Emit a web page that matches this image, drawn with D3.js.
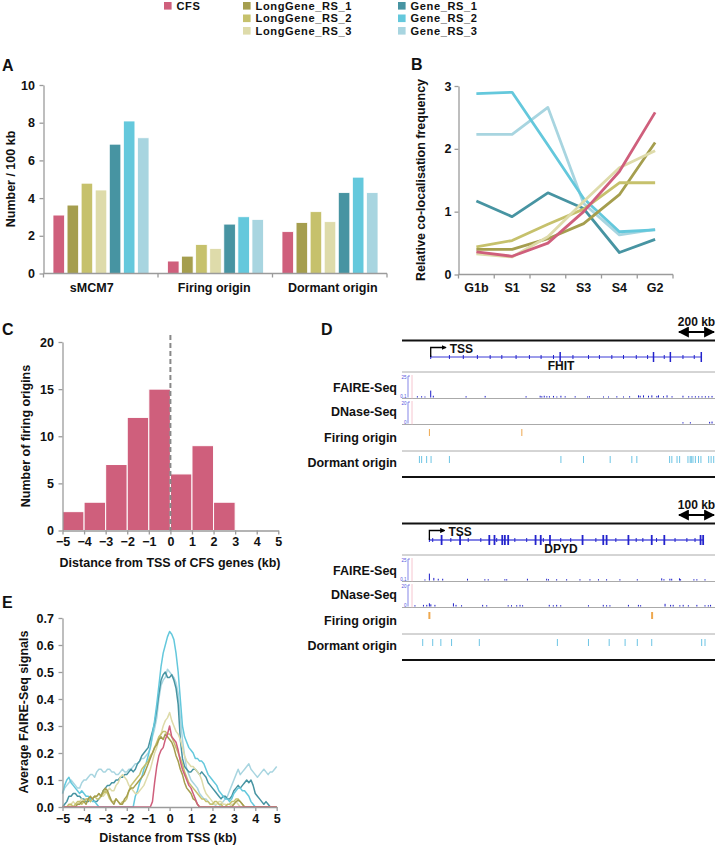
<!DOCTYPE html>
<html><head><meta charset="utf-8">
<script src="https://cdn.jsdelivr.net/npm/d3@7"></script>
<style>body{margin:0;background:#fff}</style>
</head><body><svg id="c" width="717" height="845"></svg>
<script>
// ---------- shared ----------
const seriesNames = ["CFS","LongGene_RS_1","LongGene_RS_2","LongGene_RS_3","Gene_RS_1","Gene_RS_2","Gene_RS_3"];
const seriesColors = ["#cf5f7c","#a59e4e","#c6c16c","#dedbaa","#4794a2","#64c8dc","#a8d5e0"];

// ---------- panel A ----------
const aCategories = ["sMCM7","Firing origin","Dormant origin"];
const aSMCM7   = [3.10,3.63,4.79,4.43,6.86,8.09,7.20];
const aFiring  = [0.66,0.92,1.54,1.33,2.62,3.01,2.87];
const aDormant = [2.22,2.70,3.28,2.75,4.29,5.11,4.29];
const aTicks = [0,2,4,6,8,10];

// ---------- panel B ----------
const bPhases = ["G1b","S1","S2","S3","S4","G2"];
const bCFS  = [0.36,0.29,0.50,1.00,1.64,2.58];
const bLG1  = [0.40,0.40,0.57,0.81,1.27,2.10];
const bLG2  = [0.44,0.54,0.80,1.04,1.46,1.46];
const bLG3  = [0.33,0.28,0.60,1.16,1.70,1.97];
const bG1   = [1.17,0.92,1.30,1.05,0.35,0.56];
const bG2   = [2.88,2.90,2.06,1.21,0.68,0.71];
const bG3   = [2.23,2.23,2.66,1.13,0.63,0.72];
const bTicks = [0,1,2,3];

// ---------- panel C ----------
const cBinStart = [-5,-4,-3,-2,-1,0,1,2];
const cCounts   = [2,3,7,12,15,6,9,3];
const cYTicks = [0,5,10,15,20];
const cXTicks = [-5,-4,-3,-2,-1,0,1,2,3,4,5];

// ---------- panel E (distance from TSS, kb; average FAIRE-Seq signal) ----------
const eX = [-5,-4.9,-4.8,-4.7,-4.6,-4.5,-4.4,-4.3,-4.2,-4.1,
  -4,-3.9,-3.8,-3.7,-3.6,-3.5,-3.4,-3.3,-3.2,-3.1,
  -3,-2.9,-2.8,-2.7,-2.6,-2.5,-2.4,-2.3,-2.2,-2.1,
  -2,-1.9,-1.8,-1.7,-1.6,-1.5,-1.4,-1.3,-1.2,-1.1,
  -1,-0.9,-0.8,-0.7,-0.6,-0.5,-0.4,-0.3,-0.2,-0.1,
  0,0.1,0.2,0.3,0.4,0.5,0.6,0.7,0.8,0.9,
  1,1.1,1.2,1.3,1.4,1.5,1.6,1.7,1.8,1.9,
  2,2.1,2.2,2.3,2.4,2.5,2.6,2.7,2.8,2.9,
  3,3.1,3.2,3.3,3.4,3.5,3.6,3.7,3.8,3.9,
  4,4.1,4.2,4.3,4.4,4.5,4.6,4.7,4.8,4.9,5];
const eCFS = [0,0,0,0,0,0,0,0,0,0,
  0,0,0,0,0,0,0,0,0,0,
  0,0,0,0,0,0,0,0,0,0,
  0,0,0,0,0,0,0,0,0,0,
  0,0,0.02,0.09,0.15,0.19,0.21,0.22,0.25,0.27,
  0.30,0.26,0.25,0.24,0.21,0.17,0.14,0.12,0.10,0.08,
  0.07,0.05,0.03,0.01,0,0,0,0,0,0,
  0,0,0,0,0,0,0,0,0,0,
  0,0,0,0,0,0,0,0,0,0,
  0,0,0,0,0,0,0,0,0,0,0];
const eLG1 = [0,0,0,0,0,0,0,0.01,0.01,0.02,
  0.02,0.01,0.03,0.04,0.03,0.04,0.04,0.05,0.04,0.06,
  0.07,0.06,0.04,0.02,0.01,0.03,0.02,0.01,0.01,0.03,
  0.04,0.06,0.07,0.07,0.08,0.09,0.10,0.11,0.12,0.14,
  0.16,0.18,0.20,0.22,0.23,0.25,0.26,0.25,0.27,0.26,
  0.25,0.24,0.22,0.19,0.17,0.14,0.12,0.09,0.07,0.06,
  0.05,0.03,0.025,0.01,0,0,0,0,0,0,
  0,0,0,0,0,0,0,0,0,0,
  0.01,0.02,0.025,0.02,0.01,0,0,0,0,0,
  0,0,0,0,0,0,0,0,0,0,0];
const eLG2 = [0,0,0,0.01,0.01,0,0.01,0.02,0.02,0.01,
  0.02,0.03,0.03,0.02,0.03,0.04,0.03,0.03,0.04,0.05,
  0.06,0.05,0.03,0.02,0.02,0.03,0.02,0.01,0.02,0.02,
  0.03,0.06,0.08,0.09,0.10,0.11,0.12,0.14,0.15,0.16,
  0.17,0.19,0.20,0.22,0.24,0.26,0.27,0.28,0.28,0.27,
  0.27,0.26,0.24,0.22,0.20,0.18,0.16,0.13,0.11,0.09,
  0.08,0.07,0.06,0.05,0.04,0.03,0.03,0.02,0.02,0.01,
  0.01,0.02,0.02,0.01,0.01,0,0,0.01,0.01,0.02,
  0.02,0.03,0.03,0.02,0.01,0,0,0,0,0,
  0,0,0,0,0,0,0,0,0,0,0];
const eLG3 = [0,0,0,0,0.01,0.02,0.01,0.01,0.02,0.03,
  0.02,0.03,0.03,0.02,0.03,0.04,0.04,0.05,0.04,0.04,
  0.05,0.06,0.07,0.06,0.06,0.08,0.09,0.11,0.12,0.11,
  0.10,0.08,0.07,0.06,0.05,0.05,0.06,0.07,0.08,0.10,
  0.12,0.14,0.17,0.20,0.22,0.25,0.27,0.30,0.32,0.33,
  0.35,0.32,0.30,0.28,0.27,0.25,0.22,0.19,0.17,0.16,
  0.15,0.15,0.14,0.13,0.12,0.10,0.07,0.05,0.04,0.03,
  0.02,0.01,0.01,0.02,0.02,0.01,0.01,0,0,0.01,
  0.01,0.02,0.01,0,0,0,0,0,0,0,
  0,0,0,0,0,0,0,0,0,0,0];
const eG1 = [0,0.01,0.02,0.04,0.04,0.05,0.05,0.04,0.04,0.03,
  0.03,0.02,0.02,0.03,0.03,0.02,0.02,0.03,0.04,0.06,
  0.07,0.08,0.08,0.09,0.09,0.10,0.10,0.11,0.11,0.12,
  0.12,0.13,0.14,0.13,0.14,0.16,0.17,0.19,0.20,0.21,
  0.22,0.25,0.28,0.31,0.36,0.42,0.47,0.49,0.50,0.48,
  0.48,0.49,0.47,0.44,0.38,0.25,0.18,0.15,0.14,0.13,
  0.13,0.14,0.14,0.13,0.12,0.13,0.12,0.11,0.09,0.08,
  0.07,0.06,0.05,0.04,0.03,0.04,0.04,0.03,0.03,0.04,
  0.06,0.07,0.08,0.07,0.08,0.09,0.10,0.09,0.10,0.08,
  0.05,0.04,0.03,0.02,0.01,0.02,0.01,0,0,0,0];
const eG2 = [0.05,0.08,0.10,0.11,0.09,0.08,0.07,0.06,0.05,0.06,
  0.05,0.04,0.04,0.03,0.02,0.02,0.01,0,0,0,
  0,0,0,0,0,0,0,0,0,0,
  0,0,0,0,0.04,0.06,0.09,0.11,0.14,0.16,
  0.19,0.22,0.27,0.32,0.38,0.45,0.52,0.57,0.60,0.63,
  0.65,0.64,0.62,0.57,0.50,0.40,0.30,0.26,0.24,0.22,
  0.21,0.20,0.18,0.18,0.17,0.17,0.16,0.14,0.12,0.11,
  0.10,0.09,0.08,0.06,0.05,0.04,0.03,0.03,0.02,0.03,
  0.05,0.06,0.07,0.07,0.06,0.06,0.05,0.04,0.02,0.01,
  0,0,0,0,0,0,0,0,0,0,0];
const eG3 = [0.05,0.07,0.08,0.09,0.10,0.09,0.08,0.07,0.07,0.09,
  0.10,0.10,0.11,0.12,0.12,0.11,0.13,0.14,0.14,0.13,
  0.13,0.14,0.14,0.13,0.13,0.12,0.12,0.13,0.14,0.13,
  0.13,0.14,0.14,0.15,0.16,0.16,0.17,0.18,0.18,0.19,
  0.20,0.22,0.26,0.29,0.33,0.40,0.45,0.47,0.48,0.51,
  0.50,0.49,0.48,0.46,0.42,0.33,0.25,0.19,0.14,0.12,
  0.10,0.09,0.08,0.07,0.05,0.04,0.03,0.03,0.02,0.01,
  0.01,0.01,0,0,0.01,0.02,0.03,0.04,0.06,0.08,
  0.10,0.12,0.14,0.12,0.13,0.14,0.15,0.16,0.14,0.13,
  0.12,0.11,0.12,0.13,0.14,0.13,0.12,0.13,0.13,0.14,0.15];
const eYTicks = [0,0.1,0.2,0.3,0.4,0.5,0.6,0.7];

// ---------- panel D (positions in kb from left edge of window) ----------
const fhitLength = 1690, fhitTss = 155, fhitEnd = 1616;
const fhitExons = [155,256,331,407,476,539,616,688,751,818,854,923,1007,1066,1133,1196,1265,1326,1358,1416,1449,1517,1578,1616];
const fhitMajorExons = [854,1358,1449,1616];
const fhitFairePos = [83,106,124,155,169,346,449,670,746,755,768,782,796,818,836,858,881,935,1002,1012,1088,1115,1160,1196,1229,1277,1286,1304,1331,1349,1376,1385,1412,1431,1458,1517,1548,1566,1584,1602,1620,1638,1656,1674];
const fhitFaireVal = [1.5,1.5,1.2,8,2,1.5,1.8,1.5,2,1.5,2,1.5,1.5,1.8,1.2,2,1.5,1.5,1.2,1.5,1.2,1.2,1.5,1.2,1.5,2.5,2,2.5,2,2.5,1.8,2.5,1.5,2.5,1.5,2,1.5,1.5,1.5,1.5,1.5,1.5,1.5,1.8];
const fhitDnasePos = [1517,1557,1661,1674];
const fhitDnaseVal = [1.2,1.2,1.5,1.8];
const fhitFiring = [148,647];
const fhitDormant = [94,106,133,157,256,858,980,1124,1241,1268,1445,1457,1485,1499,1544,1556,1562,1571,1584,1601,1614,1656,1669,1683];

const dpydLength = 846, dpydTss = 74, dpydEnd = 814;
const dpydExons = [74,83,107,132,157,179,213,236,250,256,271,278,287,305,337,361,375,382,400,429,456,488,524,544,553,578,612,633,651,675,688,709,738,770,792,807,814];
const dpydMajorExons = [107,157,236,250,271,278,287,361,375,400,488,544,553,612,675,709,807,814];
const dpydFairePos = [62,74,86,98,110,177,224,233,278,283,339,391,396,418,445,481,508,531,553,589,636,702,708,724,729,750,753,789,797,819];
const dpydFaireVal = [1.2,8,3,2,2,2,1.5,1.5,1.5,1.5,2,2,1.5,1.5,1.5,1.5,1.5,1.5,1.5,1.5,1.5,2.5,1.5,2,2,2.5,1.5,1.5,1.5,1.5];
const dpydDnasePos = [35,58,67,74,78,89,139,146,161,218,229,287,296,310,319,326,398,409,418,429,504,544,553,562,612,639,645,711,726,733,751,760,774,797,819,828,834];
const dpydDnaseVal = [1.2,1.5,1.5,3,2,1.5,3,1.5,1.2,1.5,1.2,1.2,1.2,1.2,1.5,1.2,1.5,1.2,1.5,1.2,1.2,1.5,1.2,1.2,1.5,1.5,1.2,2.5,1.5,1.5,1.2,1.5,1.2,1.5,1.2,1.2,1.5];
const dpydFiring = [74,676];
const dpydDormant = [56,83,105,134,209,420,504,560,603,636,675,810,819];

// ---------- drawing ----------
const FONT = '"Liberation Sans", Arial, Helvetica, sans-serif';
const AX = "#9b9b9b";
const svg = d3.select("#c").attr("font-family", FONT);
svg.append("rect").attr("width",717).attr("height",845).attr("fill","#fff");

function txt(x,y,s,size,anchor){
  return svg.append("text").attr("x",x).attr("y",y).attr("font-size",size||12.5)
    .attr("font-weight","bold").attr("fill","#111").attr("text-anchor",anchor||"start").text(s);
}
function vtxt(x,y,s,size){
  return svg.append("text").attr("transform",`translate(${x},${y}) rotate(-90)`)
    .attr("font-size",size||12.5).attr("font-weight","bold").attr("fill","#111")
    .attr("text-anchor","middle").text(s);
}
function styleAxis(g){
  g.attr("font-family",FONT).attr("font-size",null);
  g.selectAll("path,line").attr("stroke",AX).attr("stroke-width",1.3);
  g.selectAll("text").attr("font-size",12.5).attr("font-weight","bold").attr("fill","#111");
}

// legend
const legendItems = [
  {i:0,x:164,row:0},
  {i:1,x:243,row:0},{i:2,x:243,row:1},{i:3,x:243,row:2},
  {i:4,x:398,row:0},{i:5,x:398,row:1},{i:6,x:398,row:2}
];
const rowY = [5.8,18.3,30.8];
legendItems.forEach(d=>{
  svg.append("rect").attr("x",d.x).attr("y",rowY[d.row]-3.8).attr("width",7.6).attr("height",7.6).attr("fill",seriesColors[d.i]);
  txt(d.x+12.5,rowY[d.row]+4,seriesNames[d.i],11.1).attr("letter-spacing",0.6);
});

// ===== Panel A =====
txt(2,71,"A",16);
const yA = d3.scaleLinear().domain([0,10]).range([273.5,85]);
const xA = d3.scaleBand().domain(aCategories).range([43.5,387]);
const xA1 = d3.scaleBand().domain(seriesNames).range([9.5, xA.bandwidth()-9]).paddingInner(0.18);
const aData = [aSMCM7,aFiring,aDormant];
const gA = svg.append("g");
aCategories.forEach((cat,ci)=>{
  gA.selectAll(null).data(aData[ci]).enter().append("rect")
    .attr("x",(v,i)=>xA(cat)+xA1(seriesNames[i]))
    .attr("width",xA1.bandwidth())
    .attr("y",v=>yA(v)).attr("height",v=>yA(0)-yA(v))
    .attr("fill",(v,i)=>seriesColors[i]).attr("stroke","#fff").attr("stroke-width",0.8);
});
styleAxis(svg.append("g").attr("transform","translate(43.5,0)")
  .call(d3.axisLeft(yA).tickValues(aTicks).tickSize(4).tickSizeOuter(0).tickPadding(4.5)));
const axA = svg.append("g").attr("transform",`translate(0,${yA(0)})`);
axA.append("line").attr("x1",43.5).attr("x2",387).attr("stroke",AX).attr("stroke-width",1.3);
aCategories.map(c=>xA(c)).concat([387]).forEach(x=>axA.append("line").attr("x1",x).attr("x2",x).attr("y2",4).attr("stroke",AX).attr("stroke-width",1.3));
const aLabelShift = [-9,-1,3];
aCategories.forEach((c,i)=>txt(xA(c)+xA.bandwidth()/2+aLabelShift[i],292,c,12.5,"middle"));
vtxt(14.5,179,"Number / 100 kb");

// ===== Panel B =====
txt(411,70,"B",16);
const yB = d3.scaleLinear().domain([0,3]).range([274.5,86]);
const xB = d3.scaleBand().domain(bPhases).range([458.5,673]);
const bSeries = [bG1,bG3,bG2,bLG1,bLG2,bLG3,bCFS];
const bColorIdx = [4,6,5,1,2,3,0];
styleAxis(svg.append("g").attr("transform","translate(458.5,0)")
  .call(d3.axisLeft(yB).tickValues(bTicks).tickSize(4).tickSizeOuter(0).tickPadding(3).tickFormat(d3.format("d"))));
const axB = svg.append("g").attr("transform",`translate(0,${yB(0)})`);
axB.append("line").attr("x1",458.5).attr("x2",673).attr("stroke",AX).attr("stroke-width",1.3);
bPhases.map(p=>xB(p)).concat([673]).forEach(x=>axB.append("line").attr("x1",x).attr("x2",x).attr("y2",4).attr("stroke",AX).attr("stroke-width",1.3));
bPhases.forEach(p=>txt(xB(p)+xB.bandwidth()/2,291.5,p,12.5,"middle"));
const lineB = d3.line().x((v,i)=>xB(bPhases[i])+xB.bandwidth()/2).y(v=>yB(v));
bSeries.forEach((s,k)=>{
  svg.append("path").attr("d",lineB(s)).attr("fill","none")
    .attr("stroke",seriesColors[bColorIdx[k]]).attr("stroke-width",2.8).attr("stroke-linejoin","round");
});
vtxt(425,180,"Relative co-localisation frequency");

// ===== Panel C =====
txt(2,335,"C",16);
const xC = d3.scaleLinear().domain([-5,5]).range([62.5,278.3]);
const yC = d3.scaleLinear().domain([0,20]).range([530.5,342]);
svg.append("g").selectAll("rect").data(cCounts).enter().append("rect")
  .attr("x",(v,i)=>xC(cBinStart[i])).attr("width",(v,i)=>xC(cBinStart[i]+1)-xC(cBinStart[i]))
  .attr("y",v=>yC(v)).attr("height",v=>yC(0)-yC(v))
  .attr("fill",seriesColors[0]).attr("stroke","#fff").attr("stroke-width",1);
styleAxis(svg.append("g").attr("transform","translate(62.5,0)")
  .call(d3.axisLeft(yC).tickValues(cYTicks).tickSize(4).tickSizeOuter(0).tickPadding(4.5)));
styleAxis(svg.append("g").attr("transform",`translate(0,${yC(0)})`)
  .call(d3.axisBottom(xC).tickValues(cXTicks).tickSize(4).tickSizeOuter(0).tickPadding(3).tickFormat(d3.format("d"))));
svg.append("line").attr("x1",xC(0)).attr("x2",xC(0)).attr("y1",335).attr("y2",yC(0))
  .attr("stroke","#888").attr("stroke-width",2).attr("stroke-dasharray","5,3");
txt(170,567,"Distance from TSS of CFS genes (kb)",12.5,"middle");
vtxt(30,436,"Number of firing origins");

// ===== Panel D =====
txt(321,335,"D",16);
const defs = svg.append("defs");
defs.append("marker").attr("id","ah").attr("viewBox","0 0 10 10").attr("refX",9).attr("refY",5)
  .attr("markerWidth",5).attr("markerHeight",5).attr("orient","auto-start-reverse")
  .append("path").attr("d","M0,0L10,5L0,10z").attr("fill","#000");
defs.append("marker").attr("id","ah2").attr("viewBox","0 0 10 10").attr("refX",8).attr("refY",5)
  .attr("markerWidth",4).attr("markerHeight",4).attr("orient","auto-start-reverse")
  .append("path").attr("d","M0,0L10,5L0,10z").attr("fill","#000");

function browser(off, cfg){
  const x = d3.scaleLinear().domain([0,cfg.len]).range([402,715]);
  const g = svg.append("g").attr("transform",`translate(0,${off})`);
  const barLeft = 715-(x(cfg.bar)-x(0));
  g.append("text").attr("x",(barLeft+715)/2).attr("y",326).attr("text-anchor","middle")
    .attr("font-size",12).attr("font-weight","bold").attr("fill","#111").text(cfg.bar+" kb");
  g.append("line").attr("x1",barLeft+1).attr("x2",714).attr("y1",332).attr("y2",332)
    .attr("stroke","#000").attr("stroke-width",2.2).attr("marker-start","url(#ah)").attr("marker-end","url(#ah)");
  g.append("line").attr("x1",402).attr("x2",715).attr("y1",340.5).attr("y2",340.5).attr("stroke","#111").attr("stroke-width",2);
  g.append("line").attr("x1",402).attr("x2",715).attr("y1",477).attr("y2",477).attr("stroke","#111").attr("stroke-width",2);
  [372,398.5,424.5,451].forEach(y=>g.append("line").attr("x1",402).attr("x2",715).attr("y1",y).attr("y2",y).attr("stroke","#aaa").attr("stroke-width",1));
  const gy = 357;
  g.append("line").attr("x1",x(cfg.tss)).attr("x2",x(cfg.end)).attr("y1",gy).attr("y2",gy)
    .attr("stroke",cfg.lineColor).attr("stroke-width",cfg.lineWidth);
  g.selectAll(null).data(cfg.exons).enter().append("line")
    .attr("x1",d=>x(d)).attr("x2",d=>x(d))
    .attr("y1",d=>cfg.major.includes(d)?gy-5:gy-2).attr("y2",d=>cfg.major.includes(d)?gy+5:gy+2)
    .attr("stroke","#2323cc").attr("stroke-width",d=>cfg.major.includes(d)?cfg.majorW:1);
  g.append("path").attr("d",`M${x(cfg.tss)},${gy}V${gy-9.5}H${x(cfg.tss)+15}`)
    .attr("fill","none").attr("stroke","#000").attr("stroke-width",1.3).attr("marker-end","url(#ah2)");
  g.append("text").attr("x",x(cfg.tss)+19).attr("y",353).attr("font-size",12).attr("font-weight","bold").attr("fill","#111").text("TSS");
  g.append("text").attr("x",cfg.nameX).attr("y",370).attr("text-anchor","middle").attr("font-size",12).attr("font-weight","bold").attr("fill","#111").text(cfg.name);
  const tracks = [{top:376,base:397.5,max:25,lab:["25","0.1"],pos:cfg.fairePos,val:cfg.faireVal},
                  {top:402,base:423.5,max:20,lab:["20","0"],pos:cfg.dnasePos,val:cfg.dnaseVal}];
  tracks.forEach(t=>{
    const ys = d3.scaleLinear().domain([0,t.max]).range([t.base,t.top]);
    g.append("line").attr("x1",408).attr("x2",408).attr("y1",t.top).attr("y2",t.base).attr("stroke","#5555dd").attr("stroke-width",0.7);
    g.append("line").attr("x1",408).attr("x2",410).attr("y1",t.top).attr("y2",t.top).attr("stroke","#5555dd").attr("stroke-width",0.7);
    g.append("text").attr("x",406.5).attr("y",t.top+2.5).attr("text-anchor","end").attr("font-size",4.5).attr("fill","#5555dd").text(t.lab[0]);
    g.append("text").attr("x",406.5).attr("y",t.base).attr("text-anchor","end").attr("font-size",4.5).attr("fill","#5555dd").text(t.lab[1]);
    g.append("line").attr("x1",412).attr("x2",412).attr("y1",t.top-1).attr("y2",t.base+1).attr("stroke","#f4b8c4").attr("stroke-width",0.8);
    g.selectAll(null).data(t.pos).enter().append("line")
      .attr("x1",d=>x(d)).attr("x2",d=>x(d)).attr("y1",t.base).attr("y2",(d,i)=>ys(t.val[i]))
      .attr("stroke","#1c1cc8").attr("stroke-width",1);
  });
  g.selectAll(null).data(cfg.firing).enter().append("line")
    .attr("x1",d=>x(d)).attr("x2",d=>x(d)).attr("y1",429).attr("y2",436)
    .attr("stroke","#eea84f").attr("stroke-width",cfg.firingW);
  g.selectAll(null).data(cfg.dormant).enter().append("line")
    .attr("x1",d=>x(d)).attr("x2",d=>x(d)).attr("y1",456).attr("y2",463)
    .attr("stroke","#6cc4e4").attr("stroke-width",1);
  [["FAIRE-Seq",391.5],["DNase-Seq",416],["Firing origin",441.5],["Dormant origin",466.5]].forEach(l=>{
    g.append("text").attr("x",397).attr("y",l[1]).attr("text-anchor","end").attr("font-size",12.5)
      .attr("font-weight","bold").attr("fill","#111").text(l[0]);
  });
}
browser(0,{len:fhitLength,bar:200,tss:fhitTss,end:fhitEnd,exons:fhitExons,major:fhitMajorExons,
  lineColor:"#3a3ad6",lineWidth:1,majorW:1.5,name:"FHIT",nameX:561,
  fairePos:fhitFairePos,faireVal:fhitFaireVal,dnasePos:fhitDnasePos,dnaseVal:fhitDnaseVal,
  firing:fhitFiring,dormant:fhitDormant,firingW:1});
browser(183,{len:dpydLength,bar:100,tss:dpydTss,end:dpydEnd,exons:dpydExons,major:dpydMajorExons,
  lineColor:"#8282e6",lineWidth:2.2,majorW:1.8,name:"DPYD",nameX:561,
  fairePos:dpydFairePos,faireVal:dpydFaireVal,dnasePos:dpydDnasePos,dnaseVal:dpydDnaseVal,
  firing:dpydFiring,dormant:dpydDormant,firingW:2});

// ===== Panel E =====
txt(2,608,"E",16);
const xE = d3.scaleLinear().domain([-5,5]).range([62.5,276.7]);
const yE = d3.scaleLinear().domain([0,0.7]).range([807,618]);
const eSeries = [eG3,eG1,eG2,eLG3,eLG2,eLG1,eCFS];
const eColorIdx = [6,4,5,3,2,1,0];
const lineE = d3.line().x((v,i)=>xE(eX[i])).y(v=>yE(v));
eSeries.forEach((s,k)=>{
  svg.append("path").attr("d",lineE(s)).attr("fill","none")
    .attr("stroke",seriesColors[eColorIdx[k]]).attr("stroke-width",1.5).attr("stroke-linejoin","round");
});
styleAxis(svg.append("g").attr("transform","translate(62.5,0)")
  .call(d3.axisLeft(yE).tickValues(eYTicks).tickSize(4).tickSizeOuter(0).tickPadding(4.5).tickFormat(d3.format(".1f"))));
styleAxis(svg.append("g").attr("transform",`translate(0,${yE(0)})`)
  .call(d3.axisBottom(xE).tickValues(cXTicks).tickSize(4).tickSizeOuter(0).tickPadding(3).tickFormat(d3.format("d"))));
txt(168,842,"Distance from TSS (kb)",12.5,"middle");
vtxt(28,712,"Average FAIRE-Seq signals");
</script></body></html>
